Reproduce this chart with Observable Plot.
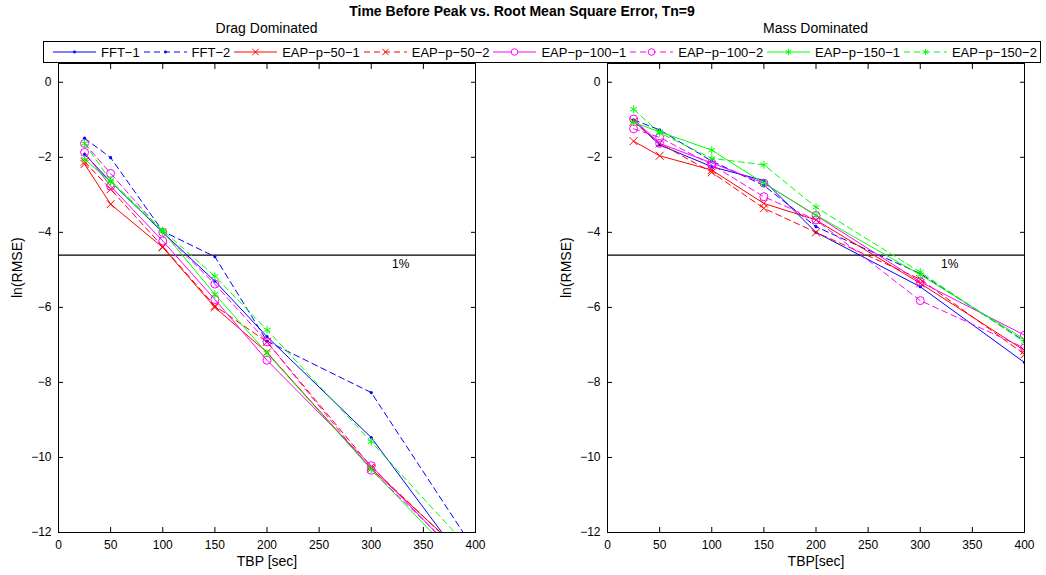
<!DOCTYPE html>
<html><head><meta charset="utf-8">
<script src="https://cdn.jsdelivr.net/npm/d3@7"></script>
<script src="https://cdn.jsdelivr.net/npm/@observablehq/plot@0.6"></script>
<style>
body{margin:0;background:#fff;}
#fig{position:relative;width:1046px;height:575px;font-family:"Liberation Sans",Arial,Helvetica,sans-serif;color:#000;overflow:hidden;background:#fff;}
.abs{position:absolute;}
#title{left:0;width:1044px;top:3px;text-align:center;font-weight:bold;font-size:14px;line-height:17px;z-index:6;}
.sub{top:20px;width:417px;text-align:center;font-size:14px;line-height:16px;z-index:6;}
#legend{left:43px;top:41px;width:998px;height:22px;border:1px solid #000;background:#fff;display:flex;align-items:center;justify-content:space-between;padding:0 3px 0 9px;box-sizing:border-box;z-index:5;font-size:13px;}
#legend .item{display:flex;align-items:center;white-space:nowrap;}
#legend .item span{margin-left:5px;}
</style></head><body><div id="fig"></div>
<script>
// ---- data ----
const tbp = [25, 50, 100, 150, 200, 300, 400];
const seriesLabels = ["FFT−1", "FFT−2", "EAP−p−50−1", "EAP−p−50−2", "EAP−p−100−1", "EAP−p−100−2", "EAP−p−150−1", "EAP−p−150−2"];
const xTicks = [0, 50, 100, 150, 200, 250, 300, 350, 400];
const yTicks = [-12, -10, -8, -6, -4, -2, 0];
const onePercent = Math.log(0.01);

// Drag Dominated panel
const dragFFT1    = [-1.92, -2.65, -4.00, -5.30, -6.78, -9.47, -13.2];
const dragFFT2    = [-1.49, -2.01, -3.97, -4.65, -6.90, -8.27, -12.5];
const dragEAP50_1 = [-2.18, -3.25, -4.40, -6.00, -7.20, -10.30, -12.85];
const dragEAP50_2 = [-2.12, -2.85, -4.38, -5.96, -6.92, -10.25, -12.9];
const dragEAP100_1 = [-1.87, -2.77, -4.23, -5.79, -7.41, -10.22, -13.1];
const dragEAP100_2 = [-1.63, -2.43, -4.00, -5.38, -6.92, -10.34, -13.0];
const dragEAP150_1 = [-2.05, -2.65, -3.98, -5.65, -7.22, -10.32, -13.2];
const dragEAP150_2 = [-1.63, -2.62, -3.95, -5.17, -6.60, -9.58, -12.6];

// Mass Dominated panel
const massFFT1    = [-1.02, -1.67, -2.25, -2.62, -4.00, -5.45, -7.47];
const massFFT2    = [-1.00, -1.27, -2.10, -2.75, -3.85, -5.10, -6.90];
const massEAP50_1 = [-1.57, -1.96, -2.34, -3.23, -3.67, -5.36, -7.15];
const massEAP50_2 = [-1.05, -1.63, -2.40, -3.36, -4.00, -5.25, -7.25];
const massEAP100_1 = [-0.98, -1.63, -2.15, -2.69, -3.55, -5.32, -6.74];
const massEAP100_2 = [-1.24, -1.47, -2.20, -3.05, -3.67, -5.82, -7.08];
const massEAP150_1 = [-1.07, -1.32, -1.81, -2.69, -3.54, -5.13, -6.85];
const massEAP150_2 = [-0.72, -1.35, -2.03, -2.20, -3.33, -5.06, -6.92];

// ---- styles ----
const DASH = "6,4";
const styles = [
  {color: "#0000ff", dash: null, symbol: "dot"},
  {color: "#0000ff", dash: DASH, symbol: "dot"},
  {color: "#ff0000", dash: null, symbol: "times"},
  {color: "#ff0000", dash: DASH, symbol: "times"},
  {color: "#ff00ff", dash: null, symbol: "circle"},
  {color: "#ff00ff", dash: DASH, symbol: "circle"},
  {color: "#00ff00", dash: null, symbol: "asterisk"},
  {color: "#00ff00", dash: DASH, symbol: "asterisk"}
];
const FONT = '"Liberation Sans", Arial, Helvetica, sans-serif';

function rowsFor(values, label) {
  return tbp.map((x, i) => ({x, y: values[i], series: label}));
}

function dotMark(rows, st) {
  if (st.symbol === "dot") return Plot.dot(rows, {x: "x", y: "y", r: 1.6, fill: st.color, stroke: "none", clip: true});
  if (st.symbol === "circle") return Plot.dot(rows, {x: "x", y: "y", r: 4, symbol: "circle", fill: "none", stroke: st.color, strokeWidth: 1, clip: true});
  return Plot.dot(rows, {x: "x", y: "y", r: 3.7, symbol: st.symbol, fill: "none", stroke: st.color, strokeWidth: 1, clip: true});
}

function panel(seriesValues, xLabel, mLeft, mRight) {
  const marks = [
    Plot.ruleY([onePercent], {stroke: "black", strokeWidth: 1.2})
  ];
  seriesValues.forEach((vals, i) => {
    const rows = rowsFor(vals, seriesLabels[i]);
    const st = styles[i];
    marks.push(Plot.line(rows, {x: "x", y: "y", stroke: st.color, strokeWidth: 1, strokeDasharray: st.dash, clip: true}));
    marks.push(dotMark(rows, st));
  });
  marks.push(
    Plot.text(["1%"], {x: () => 320, y: () => onePercent, textAnchor: "start", lineAnchor: "top", dy: 4, fontSize: 12, fill: "black"}),
    Plot.frame({stroke: "black", strokeWidth: 1}),
    Plot.axisX({anchor: "bottom", ticks: xTicks, tickSize: -5, tickPadding: 13, fontSize: 12, label: null}),
    Plot.axisX({anchor: "top", ticks: xTicks, tickSize: -5, tickFormat: () => "", label: null}),
    Plot.axisY({anchor: "left", ticks: yTicks, tickSize: -5, tickPadding: 12, fontSize: 12, label: null}),
    Plot.axisY({anchor: "right", ticks: yTicks, tickSize: -5, tickFormat: () => "", label: null}),
    Plot.text([xLabel], {frameAnchor: "bottom", lineAnchor: "middle", dy: 29, fontSize: 14, fill: "black"}),
    Plot.text(["ln(RMSE)"], {frameAnchor: "left", rotate: -90, lineAnchor: "middle", dx: -41, fontSize: 14, fill: "black"})
  );
  return Plot.plot({
    width: 523, height: 575,
    marginLeft: mLeft, marginRight: mRight, marginTop: 63, marginBottom: 43,
    x: {domain: [0, 400]},
    y: {domain: [-12, 0.5]},
    style: {fontFamily: FONT, fontSize: "12px", color: "black", background: "white", overflow: "visible"},
    marks
  });
}

const fig = document.getElementById("fig");

const left = panel([dragFFT1, dragFFT2, dragEAP50_1, dragEAP50_2, dragEAP100_1, dragEAP100_2, dragEAP150_1, dragEAP150_2], "TBP [sec]", 58, 48);
left.style.position = "absolute"; left.style.left = "0px"; left.style.top = "0px";
fig.appendChild(left);

const right = panel([massFFT1, massFFT2, massEAP50_1, massEAP50_2, massEAP100_1, massEAP100_2, massEAP150_1, massEAP150_2], "TBP[sec]", 84, 22);
right.style.position = "absolute"; right.style.left = "523px"; right.style.top = "0px";
fig.appendChild(right);

const title = document.createElement("div");
title.id = "title"; title.className = "abs";
title.textContent = "Time Before Peak vs. Root Mean Square Error, Tn=9";
fig.appendChild(title);

[["Drag Dominated", 58], ["Mass Dominated", 607]].forEach(([t, x]) => {
  const d = document.createElement("div");
  d.className = "abs sub"; d.style.left = x + "px";
  d.textContent = t; fig.appendChild(d);
});

// legend
const legend = document.createElement("div");
legend.id = "legend"; legend.className = "abs";
fig.appendChild(legend);
seriesLabels.forEach((lab, i) => {
  const st = styles[i];
  const item = document.createElement("div"); item.className = "item";
  const svg = d3.create("svg").attr("width", 43).attr("height", 14);
  svg.append("line").attr("x1", 0).attr("x2", 43).attr("y1", 7).attr("y2", 7)
    .attr("stroke", st.color).attr("stroke-width", 1).attr("stroke-dasharray", st.dash);
  if (st.symbol === "dot") {
    svg.append("circle").attr("cx", 21.5).attr("cy", 7).attr("r", 1.4).attr("fill", st.color);
  } else if (st.symbol === "circle") {
    svg.append("circle").attr("cx", 21.5).attr("cy", 7).attr("r", 3.3).attr("fill", "white").attr("stroke", st.color);
  } else {
    const sym = st.symbol === "times" ? d3.symbolTimes : d3.symbolAsterisk;
    svg.append("path").attr("transform", "translate(21.5,7)")
      .attr("d", d3.symbol(sym, Math.PI * 3 * 3)()).attr("fill", "none").attr("stroke", st.color);
  }
  item.appendChild(svg.node());
  const sp = document.createElement("span"); sp.textContent = lab;
  item.appendChild(sp);
  legend.appendChild(item);
});
</script>
</body></html>
